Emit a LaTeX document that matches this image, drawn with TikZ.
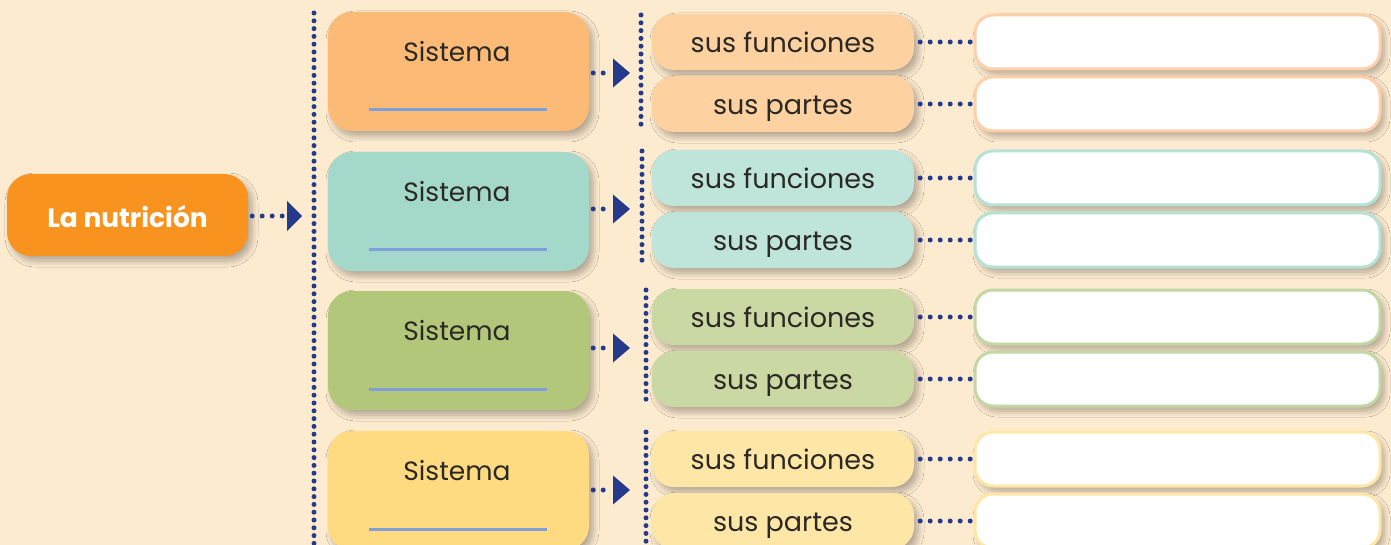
\documentclass[tikz,border=0pt]{standalone}
\usepackage{fontspec}
\setmainfont{Poppins}
\usetikzlibrary{shadows.blur}
\definecolor{bg}{HTML}{FDEBD0}
\definecolor{navy}{HTML}{263A8C}
\definecolor{uline}{HTML}{7E9FDB}
\definecolor{txtc}{HTML}{2B2925}
\definecolor{nutc}{HTML}{F7931E}
\definecolor{big1}{HTML}{FBBB76}
\definecolor{big2}{HTML}{A4D8CB}
\definecolor{big3}{HTML}{B2C77A}
\definecolor{big4}{HTML}{FEDB80}
\definecolor{small1}{HTML}{FDD1A0}
\definecolor{small2}{HTML}{BFE5DB}
\definecolor{small3}{HTML}{CAD9A3}
\definecolor{small4}{HTML}{FEE6A7}
\definecolor{edge1}{HTML}{FDCFAA}
\definecolor{edge2}{HTML}{B5E1D6}
\definecolor{edge3}{HTML}{C3D7A4}
\definecolor{edge4}{HTML}{FEE7A6}
\begin{document}
\begin{tikzpicture}[x=1pt,y=-1pt,
  shad/.style={blur shadow={shadow xshift=4pt, shadow yshift=-5pt, shadow blur radius=6pt, shadow opacity=30, shadow blur steps=8}},
  nutbox/.style={shad, fill=nutc, rounded corners=24pt, minimum width=241pt, minimum height=82pt, inner sep=0pt, text=white, text height=26pt, text depth=0pt, font=\fontsize{26.5}{30}\selectfont\bfseries},
  bigbox/.style={shad, rounded corners=24pt, minimum width=261pt, minimum height=119pt, inner sep=0pt},
  smallbox/.style={shad, rounded corners=22pt, minimum width=262pt, minimum height=56pt, inner sep=0pt, text=txtc, text height=21pt, text depth=0pt, font=\fontsize{27}{30}\selectfont},
  whitebox/.style={shad, fill=white, line width=3pt, rounded corners=18pt, minimum width=405pt, minimum height=54pt, inner sep=0pt},
  label/.style={text=txtc, font=\fontsize{26.5}{30}\selectfont, inner sep=0pt, anchor=base},
  underl/.style={draw=uline, line width=3pt},
  hdots/.style={draw=navy, line width=5pt, line cap=round, dash pattern=on 0pt off 10pt},
  vdots/.style={draw=navy, line width=5pt, line cap=round, dash pattern=on 0pt off 7.8pt},
  tip/.style={fill=navy}
]
\fill[bg] (0,0) rectangle (1391,545);
\useasboundingbox (0,0) rectangle (1391,545);

% main node and arrow
\node[nutbox] (nut) at (127.5,215) {La nutrición};
\coordinate (a0) at (302,216);
\draw[hdots] ([xshift=4pt]nut.east |- a0) -- ([xshift=-17pt]a0);
\fill[tip] (a0) -- ++(-15,-15) -- ++(0,30) -- cycle;

% main vertical dotted line
\coordinate (vtop) at (314,13);
\coordinate (vbot) at (314,548);
\draw[vdots] (vtop) -- (vbot);

\newcommand\mkrow[5]{%
  \node[bigbox, fill=big#1] (s#1) at (458.5,#2+59.5) {};
  \node[label] (st#1) at ([xshift=-1.5pt,yshift=10pt]s#1.center) {Sistema};
  \coordinate (ul#1) at ([xshift=-90pt,yshift=-38.5pt]s#1.center);
  \coordinate (ur#1) at ([xshift=88pt,yshift=-38.5pt]s#1.center);
  \draw[underl] (ul#1) -- (ur#1);
  \node[smallbox, fill=small#1] (f#1) at (783,#3+28) {sus funciones};
  \node[smallbox, fill=small#1] (p#1) at (783,#4+28) {sus partes};
  \node[whitebox, draw=edge#1] (wf#1) at (1177.5,#3+28) {};
  \node[whitebox, draw=edge#1] (wp#1) at (1177.5,#4+28) {};
  \draw[hdots] ([xshift=6pt]f#1.east) -- ([xshift=-3pt]wf#1.west);
  \draw[hdots] ([xshift=6pt]p#1.east) -- ([xshift=-3pt]wp#1.west);
  \coordinate (ar#1) at (630,{(#3+#4+56)/2});
  \draw[hdots] ([xshift=4pt]s#1.east |- ar#1) -- ([xshift=-20pt]ar#1);
  \fill[tip] (ar#1) -- ++(-17,-14.5) -- ++(0,29) -- cycle;
  \coordinate (bt#1) at (#5,#3+1);
  \coordinate (bb#1) at (#5,#4+54);
  \draw[vdots] (bt#1) -- (bb#1);
}
\mkrow{1}{12}{14}{76}{641}
\mkrow{2}{152}{150}{212}{642}
\mkrow{3}{291}{289}{351}{646}
\mkrow{4}{431}{431}{493}{646}
\end{tikzpicture}
\end{document}
